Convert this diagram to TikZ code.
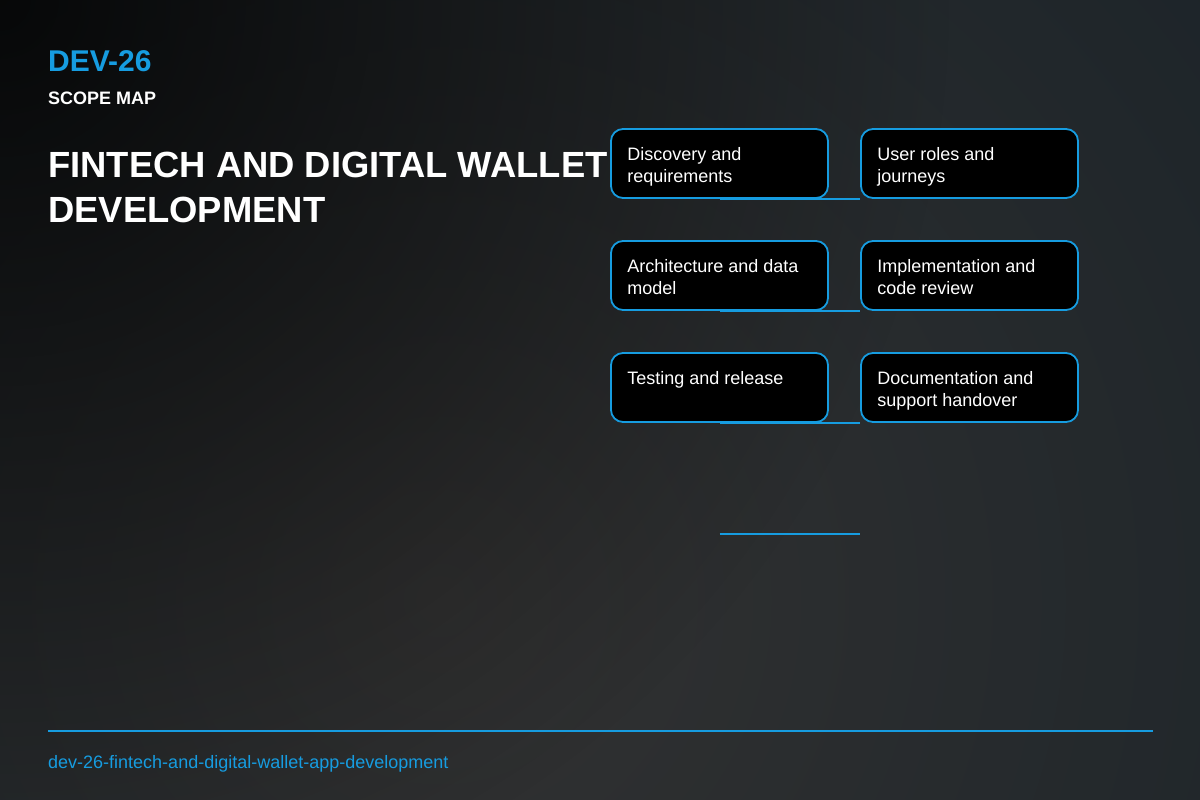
\documentclass[tikz,border=0pt]{standalone}
\usepackage{fontspec}
\setmainfont{Liberation Sans}
\usetikzlibrary{positioning,fadings}
\definecolor{accent}{RGB}{22,156,224}
\definecolor{bgmid}{RGB}{50,50,50}
\definecolor{bgedge}{RGB}{24,33,39}
\tikzfading[name=fadecorner, inner color=transparent!20, outer color=transparent!100]
\tikzset{
    scope box/.style={draw=accent, line width=1.8pt, fill=black, rounded corners=12pt,
        minimum width=217pt, minimum height=69pt, inner sep=0pt},
    scope text/.style={anchor=base west, align=left, text=white, inner sep=0pt,
        font=\fontsize{18}{22}\selectfont},
    link/.style={draw=accent, line width=2pt},
}

\begin{document}
\begin{tikzpicture}[x=1pt, y=-1pt]
\useasboundingbox (0,0) rectangle (1200,800);
% background
\begin{scope}
\clip (0,0) rectangle (1200,800);
\shade[inner color=bgmid, outer color=bgedge] (440,600) circle (1250);
\fill[black, path fading=fadecorner] (0,0) circle (950);
\end{scope}
% header
\node[anchor=base west, inner sep=0pt, text=accent, font=\fontsize{30}{36}\selectfont\bfseries] (code) at (48,72) {DEV-26};
\node[anchor=base west, inner sep=0pt, text=white, font=\fontsize{18}{20}\selectfont\bfseries] (kind) at (48,104) {SCOPE MAP};
\node[anchor=base west, inner sep=0pt, align=left, text=white, font=\fontsize{36.4}{45}\selectfont\bfseries] (title) at (48,222) {FINTECH AND DIGITAL WALLET\\DEVELOPMENT};
% boxes
\node[scope box] (b1) at (719.5,163.5) {};
\node[scope box] (b2) at (969.5,163.5) {};
\node[scope box] (b3) at (719.5,275.5) {};
\node[scope box] (b4) at (969.5,275.5) {};
\node[scope box] (b5) at (719.5,387.5) {};
\node[scope box] (b6) at (969.5,387.5) {};
\node[scope text] (t1) at ([shift={(17,54)}]b1.north west) {Discovery and\\requirements};
\node[scope text] (t2) at ([shift={(17,54)}]b2.north west) {User roles and\\journeys};
\node[scope text] (t3) at ([shift={(17,54)}]b3.north west) {Architecture and data\\model};
\node[scope text] (t4) at ([shift={(17,54)}]b4.north west) {Implementation and\\code review};
\node[scope text] (t5) at ([shift={(17,32)}]b5.north west) {Testing and release};
\node[scope text] (t6) at ([shift={(17,54)}]b6.north west) {Documentation and\\support handover};
% links
\coordinate (e7) at (719.5,534);
\coordinate (e8) at (860,534);
\draw[link] (b1.south) -- (b2.south west);
\draw[link] (b3.south) -- (b4.south west);
\draw[link] (b5.south) -- (b6.south west);
\draw[link] (e7) -- (e8);
% footer
\coordinate (f1) at (48,731);
\coordinate (f2) at (1153,731);
\draw[link] (f1) -- (f2);
\node[anchor=base west, inner sep=0pt, text=accent, font=\fontsize{18}{20}\selectfont] (slug) at (48,768) {dev-26-fintech-and-digital-wallet-app-development};
\end{tikzpicture}
\end{document}
